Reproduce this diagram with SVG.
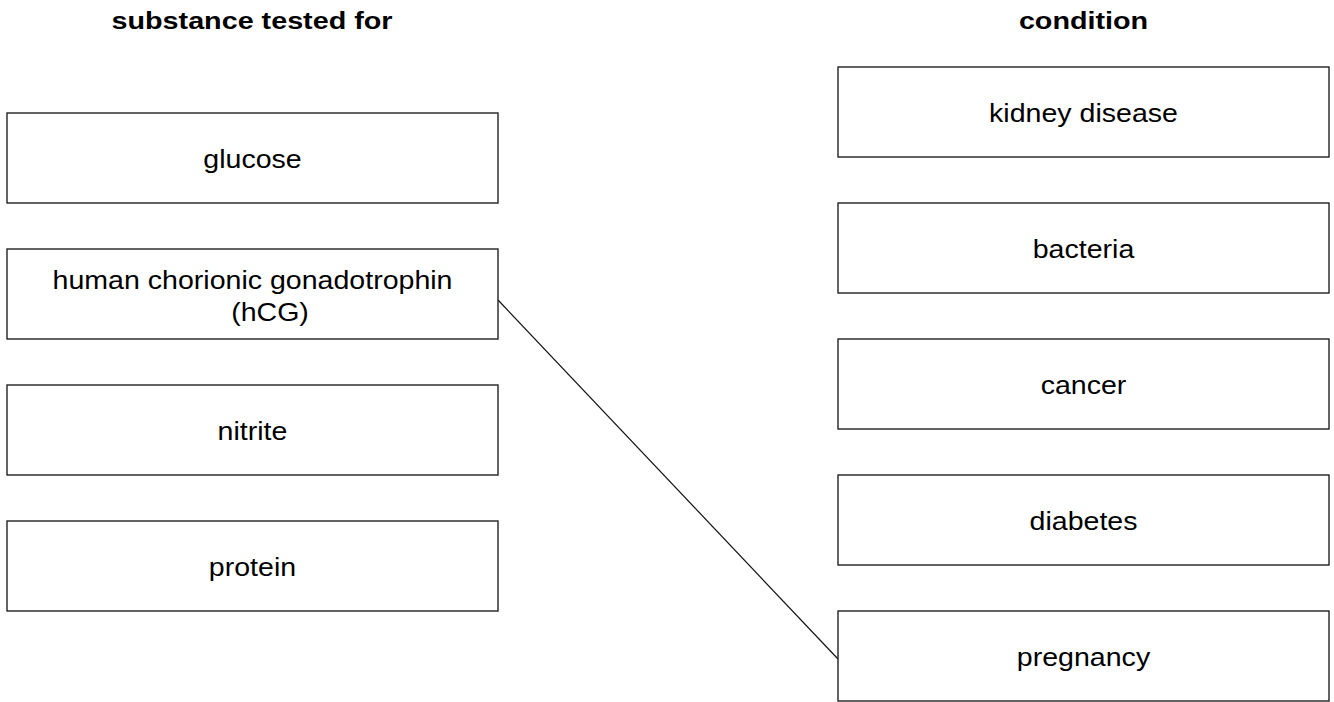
<svg xmlns="http://www.w3.org/2000/svg" width="1334" height="702" viewBox="0 0 1334 702">
<style>
.box{fill:#fff;stroke:#222;stroke-width:1.4}
.t{font-family:"Liberation Sans",Arial,sans-serif;font-size:25.5px;fill:#000;text-anchor:middle}
.h{font-family:"Liberation Sans",Arial,sans-serif;font-size:23px;font-weight:bold;fill:#000;text-anchor:middle}
.c{stroke:#111;stroke-width:1.2;fill:none}
</style>
<rect width="1334" height="702" fill="#fff"/>
<text class="h" transform="matrix(1.25 0 0 1 252 29)">substance tested for</text>
<text class="h" transform="matrix(1.25 0 0 1 1083.5 29)">condition</text>
<g id="connectors"><line class="c" x1="498" y1="300" x2="838" y2="659"/></g>
<g id="glucose"><rect class="box" x="7" y="113" width="491" height="90"/><text class="t" transform="matrix(1.12 0 0 1 252.5 168)">glucose</text></g>
<g id="hcg"><rect class="box" x="7" y="249" width="491" height="90"/><text class="t" transform="matrix(1.12 0 0 1 252.5 289)">human chorionic gonadotrophin</text><text class="t" transform="matrix(1.12 0 0 1 270 321)">(hCG)</text></g>
<g id="nitrite"><rect class="box" x="7" y="385" width="491" height="90"/><text class="t" transform="matrix(1.12 0 0 1 252.5 440)">nitrite</text></g>
<g id="protein"><rect class="box" x="7" y="521" width="491" height="90"/><text class="t" transform="matrix(1.12 0 0 1 252.5 576)">protein</text></g>
<g id="kidney"><rect class="box" x="838" y="67" width="491" height="90"/><text class="t" transform="matrix(1.12 0 0 1 1083.5 122)">kidney disease</text></g>
<g id="bacteria"><rect class="box" x="838" y="203" width="491" height="90"/><text class="t" transform="matrix(1.12 0 0 1 1083.5 258)">bacteria</text></g>
<g id="cancer"><rect class="box" x="838" y="339" width="491" height="90"/><text class="t" transform="matrix(1.12 0 0 1 1083.5 394)">cancer</text></g>
<g id="diabetes"><rect class="box" x="838" y="475" width="491" height="90"/><text class="t" transform="matrix(1.12 0 0 1 1083.5 530)">diabetes</text></g>
<g id="pregnancy"><rect class="box" x="838" y="611" width="491" height="90"/><text class="t" transform="matrix(1.12 0 0 1 1083.5 666)">pregnancy</text></g>
</svg>
